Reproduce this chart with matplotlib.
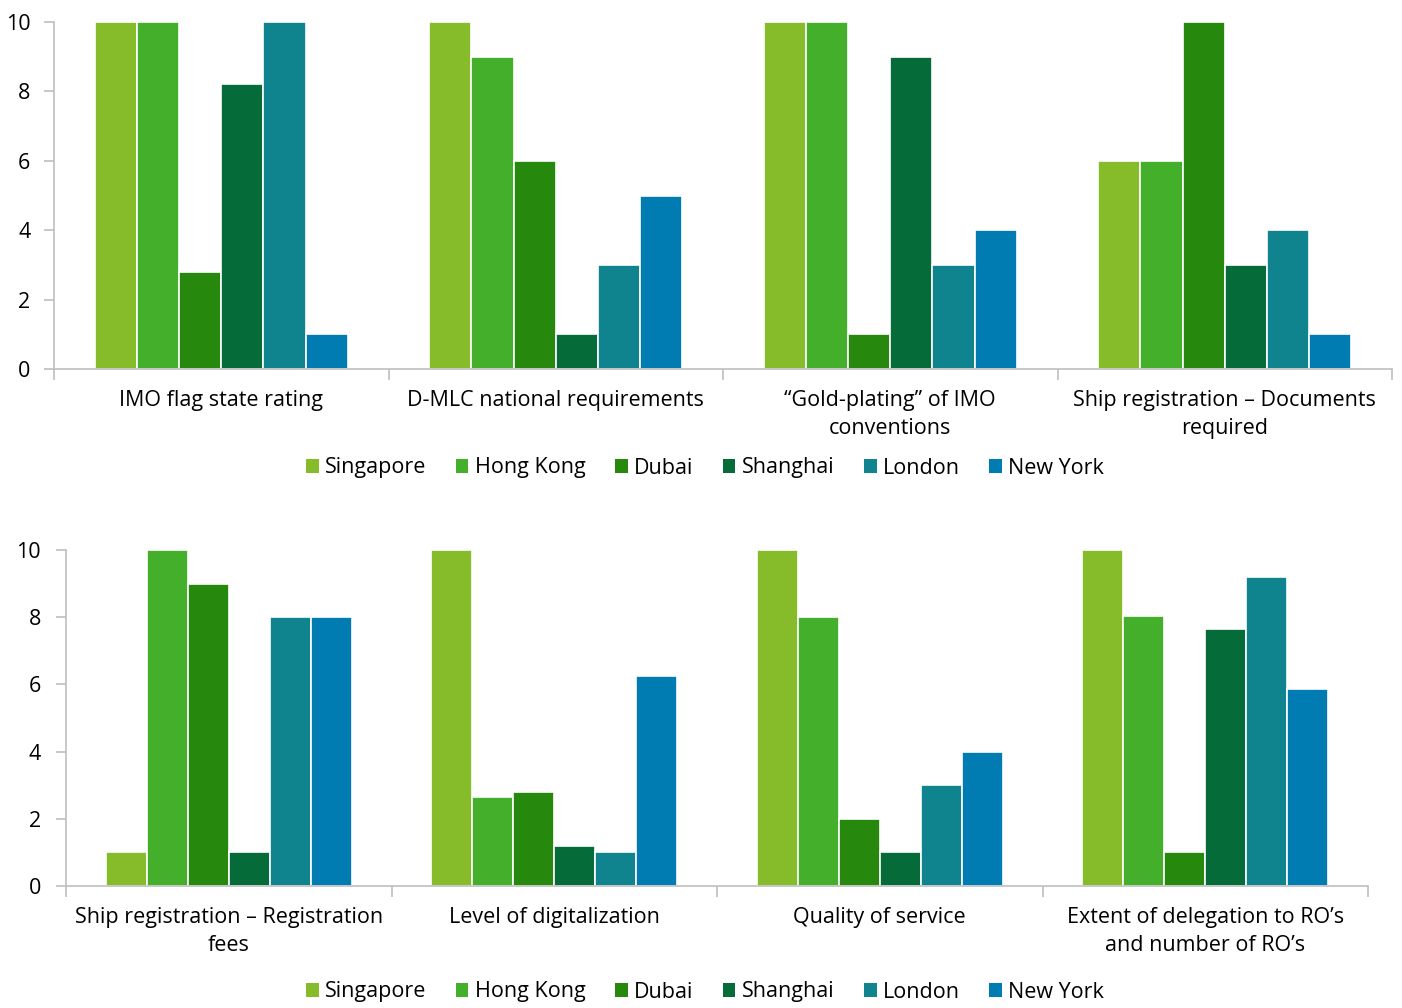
import numpy as np
import matplotlib
matplotlib.use("Agg")
import matplotlib.pyplot as plt
from matplotlib.patches import Patch

plt.rcParams['font.family'] = ['Open Sans', 'DejaVu Sans']

cities = ["Singapore", "Hong Kong", "Dubai", "Shanghai", "London", "New York"]
colors = ["#86BC29", "#43AF2B", "#26890E", "#046B39", "#10848E", "#007CB2"]

top_categories = [
    "IMO flag state rating",
    "D-MLC national requirements",
    "\u201cGold-plating\u201d of IMO\nconventions",
    "Ship registration \u2013 Documents\nrequired",
]
top_values = {
    "Singapore": [10, 10, 10, 6],
    "Hong Kong": [10, 9, 10, 6],
    "Dubai":     [2.8, 6, 1, 10],
    "Shanghai":  [8.2, 1, 9, 3],
    "London":    [10, 3, 3, 4],
    "New York":  [1, 5, 4, 1],
}

bottom_categories = [
    "Ship registration \u2013 Registration\nfees",
    "Level of digitalization",
    "Quality of service",
    "Extent of delegation to RO\u2019s\nand number of RO\u2019s",
]
bottom_values = {
    "Singapore": [1, 10, 10, 10],
    "Hong Kong": [10, 2.65, 8, 8.05],
    "Dubai":     [9, 2.8, 2, 1],
    "Shanghai":  [1, 1.2, 1, 7.65],
    "London":    [8, 1, 3, 9.2],
    "New York":  [8, 6.25, 4, 5.85],
}
y_ticks = [0, 2, 4, 6, 8, 10]

W, H = 1402, 1008
fig = plt.figure(figsize=(W / 100, H / 100), dpi=100)

AXIS_GREY = "#BFBFBF"
FS = 15.5


def draw_panel(rect, categories, values, ypad):
    ax = fig.add_axes(rect)
    n = len(categories)
    step = 0.126
    x = np.arange(n)
    for i, city in enumerate(cities):
        off = (i - (len(cities) - 1) / 2) * step
        ax.bar(x + off, values[city], width=step, color=colors[i],
               edgecolor="white", linewidth=1.2, zorder=2)
    ax.set_xlim(-0.5, n - 0.5)
    ax.set_ylim(0, 10)
    ax.set_yticks(y_ticks)
    ax.set_yticklabels([str(t) for t in y_ticks], fontsize=FS)
    ax.set_xticks(x)
    ax.set_xticklabels(categories, fontsize=FS, linespacing=1.45)
    ax.set_xticks(np.arange(n + 1) - 0.5, minor=True)
    ax.tick_params(axis="x", which="major", length=0, pad=15)
    ax.tick_params(axis="x", which="minor", length=8, color=AXIS_GREY, width=1.2)
    ax.tick_params(axis="y", length=7, color=AXIS_GREY, width=1.2, pad=ypad)
    for side in ("top", "right"):
        ax.spines[side].set_visible(False)
    for side in ("left", "bottom"):
        ax.spines[side].set_color(AXIS_GREY)
        ax.spines[side].set_linewidth(1.2)
    ax.spines["bottom"].set_zorder(3)
    return ax


draw_panel([54 / W, 1 - 369 / H, (1392 - 54) / W, (369 - 22) / H],
           top_categories, top_values, 10)
draw_panel([66 / W, 1 - 886 / H, (1368 - 66) / W, (886 - 550) / H],
           bottom_categories, bottom_values, 11)

handles = [Patch(facecolor=c, edgecolor="none") for c in colors]
for ycen in (468, 992):
    fig.legend(handles, cities, loc="center",
               bbox_to_anchor=(705 / W, 1 - ycen / H), ncol=6, frameon=False,
               fontsize=FS, handlelength=0.6, handleheight=0.6,
               handletextpad=0.3, columnspacing=1.35, borderaxespad=0)

fig.savefig("out.png", dpi=100, facecolor="white")
